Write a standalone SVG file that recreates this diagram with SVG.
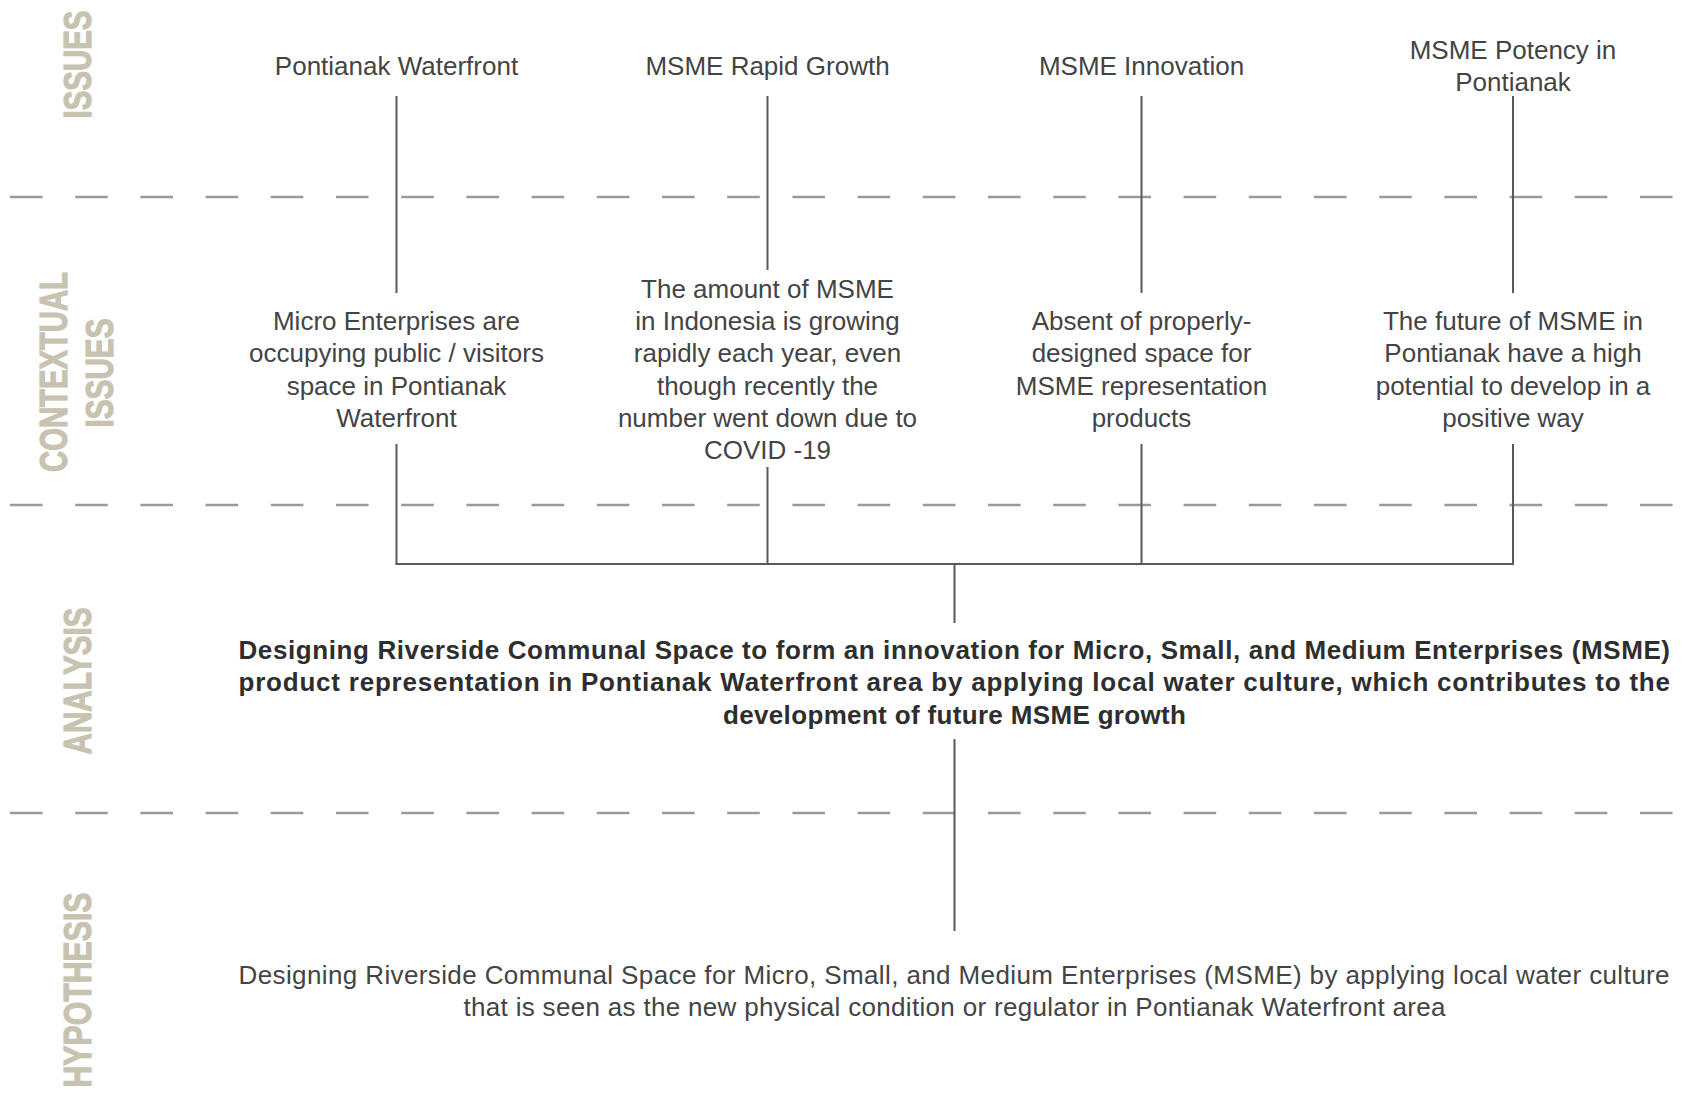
<svg xmlns="http://www.w3.org/2000/svg" width="1685" height="1119" viewBox="0 0 1685 1119">
  <style>
    .band { fill: #c8c3b1; stroke: #c8c3b1; stroke-width: 1.2; font-family: "Liberation Sans Narrow", "Liberation Sans", Arial, sans-serif; font-weight: bold; font-size: 38px; }
    .t { fill: #444444; font-family: "Liberation Sans", Arial, sans-serif; font-size: 26px; text-anchor: middle; }
    .b { fill: #2e2e2e; font-family: "Liberation Sans", Arial, sans-serif; font-size: 26px; font-weight: bold; }
    .h { fill: #444444; font-family: "Liberation Sans", Arial, sans-serif; font-size: 26px; }
    .sep { stroke: #9a9a9c; stroke-width: 2.5; stroke-dasharray: 32.6 32.6; fill: none; }
    .wire { stroke: #595959; stroke-width: 2; fill: none; }
  </style>
  <rect width="1685" height="1119" fill="#ffffff"/>

  <!-- section separators -->
  <g id="separators">
    <line class="sep" x1="10" y1="197" x2="1674" y2="197"/>
    <line class="sep" x1="10" y1="505" x2="1674" y2="505"/>
    <line class="sep" x1="10" y1="813" x2="1674" y2="813"/>
  </g>

  <!-- section titles -->
  <g id="band-labels">
    <text class="band" text-anchor="middle" transform="translate(90.5,64.5) rotate(-90)" textLength="108" lengthAdjust="spacingAndGlyphs">ISSUES</text>
    <text class="band" text-anchor="middle" transform="translate(66.5,372) rotate(-90)" textLength="200" lengthAdjust="spacingAndGlyphs">CONTEXTUAL</text>
    <text class="band" text-anchor="middle" transform="translate(112.5,373) rotate(-90)" textLength="109" lengthAdjust="spacingAndGlyphs">ISSUES</text>
    <text class="band" text-anchor="middle" transform="translate(90.5,681) rotate(-90)" textLength="147" lengthAdjust="spacingAndGlyphs">ANALYSIS</text>
    <text class="band" text-anchor="middle" transform="translate(90.5,990) rotate(-90)" textLength="195" lengthAdjust="spacingAndGlyphs">HYPOTHESIS</text>
  </g>

  <!-- connectors -->
  <g id="connectors">
    <line class="wire" x1="396.5" y1="96" x2="396.5" y2="293"/>
    <line class="wire" x1="767.5" y1="96" x2="767.5" y2="270"/>
    <line class="wire" x1="1141.5" y1="96" x2="1141.5" y2="293"/>
    <line class="wire" x1="1513" y1="96" x2="1513" y2="293"/>

    <line class="wire" x1="396.5" y1="444" x2="396.5" y2="564"/>
    <line class="wire" x1="767.5" y1="467" x2="767.5" y2="564"/>
    <line class="wire" x1="1141.5" y1="444" x2="1141.5" y2="564"/>
    <line class="wire" x1="1513" y1="444" x2="1513" y2="564"/>

    <line class="wire" x1="395.5" y1="564" x2="1514" y2="564" stroke-width="2.5"/>
    <line class="wire" x1="954.5" y1="564" x2="954.5" y2="623"/>
    <line class="wire" x1="954.5" y1="739" x2="954.5" y2="931"/>
  </g>

  <!-- issues -->
  <g id="issue-waterfront"><text class="t" x="396.5" y="74.5">Pontianak Waterfront</text></g>
  <g id="issue-growth"><text class="t" x="767.5" y="74.5">MSME Rapid Growth</text></g>
  <g id="issue-innovation"><text class="t" x="1141.5" y="74.5">MSME Innovation</text></g>
  <g id="issue-potency">
    <text class="t" x="1513" y="58.5">MSME Potency in</text>
    <text class="t" x="1513" y="90.5">Pontianak</text>
  </g>

  <!-- contextual issues -->
  <g id="context-waterfront">
    <text class="t" x="396.5" y="330">Micro Enterprises are</text>
    <text class="t" x="396.5" y="362.3">occupying public / visitors</text>
    <text class="t" x="396.5" y="394.6">space in Pontianak</text>
    <text class="t" x="396.5" y="426.9">Waterfront</text>
  </g>
  <g id="context-growth">
    <text class="t" x="767.5" y="298">The amount of MSME</text>
    <text class="t" x="767.5" y="330">in Indonesia is growing</text>
    <text class="t" x="767.5" y="362.3">rapidly each year, even</text>
    <text class="t" x="767.5" y="394.6">though recently the</text>
    <text class="t" x="767.5" y="426.9">number went down due to</text>
    <text class="t" x="767.5" y="459.2">COVID -19</text>
  </g>
  <g id="context-innovation">
    <text class="t" x="1141.5" y="330">Absent of properly-</text>
    <text class="t" x="1141.5" y="362.3">designed space for</text>
    <text class="t" x="1141.5" y="394.6">MSME representation</text>
    <text class="t" x="1141.5" y="426.9">products</text>
  </g>
  <g id="context-potency">
    <text class="t" x="1513" y="330">The future of MSME in</text>
    <text class="t" x="1513" y="362.3">Pontianak have a high</text>
    <text class="t" x="1513" y="394.6">potential to develop in a</text>
    <text class="t" x="1513" y="426.9">positive way</text>
  </g>

  <!-- analysis -->
  <g id="analysis">
    <text class="b" x="238.5" y="659" textLength="1431.5" lengthAdjust="spacing">Designing Riverside Communal Space to form an innovation for Micro, Small, and Medium Enterprises (MSME)</text>
    <text class="b" x="238.5" y="691.3" textLength="1431.5" lengthAdjust="spacing">product representation in Pontianak Waterfront area by applying local water culture, which contributes to the</text>
    <text class="b" x="954.5" y="723.6" text-anchor="middle" textLength="463" lengthAdjust="spacing">development of future MSME growth</text>
  </g>

  <!-- hypothesis -->
  <g id="hypothesis">
    <text class="h" x="238.5" y="983.7" textLength="1431" lengthAdjust="spacing">Designing Riverside Communal Space for Micro, Small, and Medium Enterprises (MSME) by applying local water culture</text>
    <text class="h" x="954.5" y="1016" text-anchor="middle" textLength="982" lengthAdjust="spacing">that is seen as the new physical condition or regulator in Pontianak Waterfront area</text>
  </g>
</svg>
